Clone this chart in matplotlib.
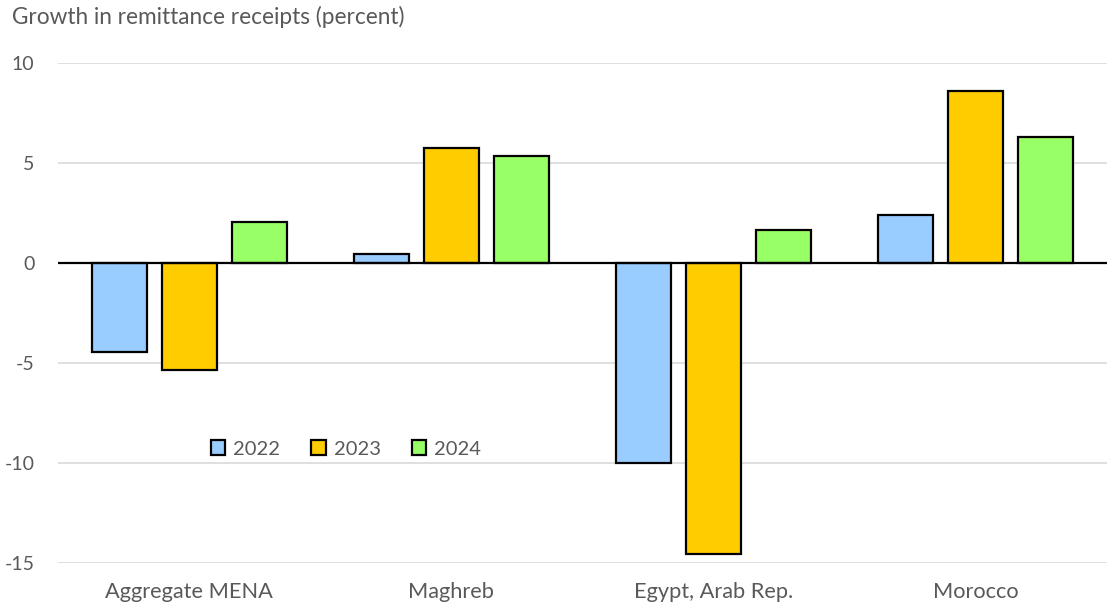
import numpy as np
import matplotlib.pyplot as plt

regions = ["Aggregate MENA", "Maghreb", "Egypt, Arab Rep.", "Morocco"]
years = ["2022", "2023", "2024"]
growth_2022 = [-4.45, 0.45, -10.0, 2.4]
growth_2023 = [-5.35, 5.75, -14.55, 8.6]
growth_2024 = [2.05, 5.35, 1.65, 6.3]
yticks = [-15, -10, -5, 0, 5, 10]

colors = ["#99ccff", "#ffcc00", "#99ff66"]
text_color = "#595959"

plt.rcParams['font.family'] = ['Lato', 'DejaVu Sans']

fig = plt.figure(figsize=(11.07, 6.05), dpi=100)
ax = fig.add_axes([58 / 1107, 1 - 563 / 605, 1 - 58 / 1107, 500 / 605])

x = np.arange(len(regions))
width = 0.21
step = 0.267
for i, (vals, year) in enumerate(zip([growth_2022, growth_2023, growth_2024], years)):
    ax.bar(x + (i - 1) * step, vals, width, color=colors[i], edgecolor="black",
           linewidth=1.6, label=year, zorder=3)

ax.set_xlim(-0.5, len(regions) - 0.5)
ax.set_ylim(-15, 10)
ax.set_yticks(yticks)
ax.set_yticklabels([str(t) for t in yticks])
ax.set_xticks(x)
ax.set_xticklabels(regions)
ax.tick_params(axis="both", length=0, colors=text_color)
ax.tick_params(axis="y", pad=17, labelsize=14)
ax.tick_params(axis="x", pad=14, labelsize=15.7)

ax.grid(axis="y", color="#d9d9d9", linewidth=1.2, zorder=0)
ax.axhline(0, color="black", linewidth=1.6, zorder=4)
for s in ax.spines.values():
    s.set_visible(False)

# legend centred in the empty space under the first group
leg = ax.legend(loc="center", ncol=3, frameon=False, fontsize=14.5,
                labelcolor=text_color, handlelength=0.7, handleheight=0.7,
                handletextpad=0.4, columnspacing=1.55, borderaxespad=0)
leg.set_bbox_to_anchor(((346 - 58) / (1107 - 58), 1 - (449 - 63) / 500), transform=ax.transAxes)

fig.text(12 / 1107, 1 - 17 / 605, "Growth in remittance receipts (percent)",
         fontsize=16.3, color=text_color, va="center", ha="left")

fig.savefig("out.png", dpi=100)
